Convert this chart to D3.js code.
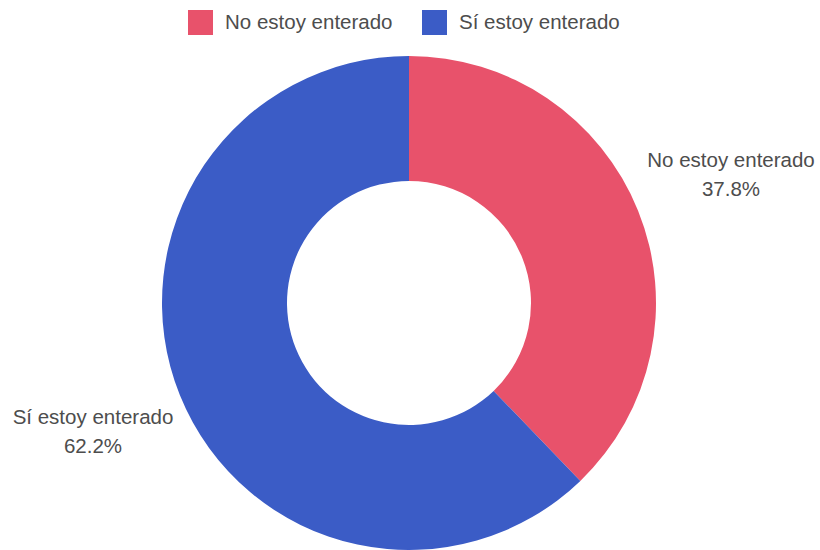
<!DOCTYPE html>
<html>
<head>
<meta charset="utf-8">
<script src="https://cdn.jsdelivr.net/npm/d3@7"></script>
<style>
  html, body { margin: 0; padding: 0; background: #ffffff; }
  svg { display: block; }
  text { font-family: "Liberation Sans", Arial, sans-serif; fill: #4d4d4d; }
</style>
</head>
<body>
<svg id="chart" width="820" height="550"></svg>
<script>
const categories = ["No estoy enterado", "Sí estoy enterado"];
const values = [37.8, 62.2];
const colors = ["#e8526b", "#3b5cc6"];

const svg = d3.select("#chart");
const cx = 409, cy = 303, outerR = 247, innerR = 122;

const data = categories.map((c, i) => ({ name: c, value: values[i], color: colors[i] }));

const pie = d3.pie().value(d => d.value).sort(null);
const arc = d3.arc().innerRadius(innerR).outerRadius(outerR);

const g = svg.append("g").attr("transform", `translate(${cx},${cy})`);
g.selectAll("path")
  .data(pie(data))
  .join("path")
  .attr("d", arc)
  .attr("fill", d => d.data.color);

// outside labels
const labelPos = [
  { x: 731, y: 167 },
  { x: 93, y: 424 }
];
const lbl = svg.selectAll("g.lbl")
  .data(pie(data))
  .join("g")
  .attr("class", "lbl");
lbl.append("text")
  .attr("x", (d, i) => labelPos[i].x)
  .attr("y", (d, i) => labelPos[i].y)
  .attr("text-anchor", "middle")
  .attr("font-size", 20.5)
  .text(d => d.data.name);
lbl.append("text")
  .attr("x", (d, i) => labelPos[i].x)
  .attr("y", (d, i) => labelPos[i].y + 29)
  .attr("text-anchor", "middle")
  .attr("font-size", 20.5)
  .text(d => d3.format(".1f")(d.data.value) + "%");

// legend
const legendX = [188, 422];
const leg = svg.selectAll("g.leg")
  .data(data)
  .join("g")
  .attr("class", "leg")
  .attr("transform", (d, i) => `translate(${legendX[i]},10)`);
leg.append("rect")
  .attr("width", 25).attr("height", 25)
  .attr("fill", d => d.color);
leg.append("text")
  .attr("x", 37).attr("y", 19)
  .attr("font-size", 20.5)
  .text(d => d.name);
</script>
</body>
</html>
